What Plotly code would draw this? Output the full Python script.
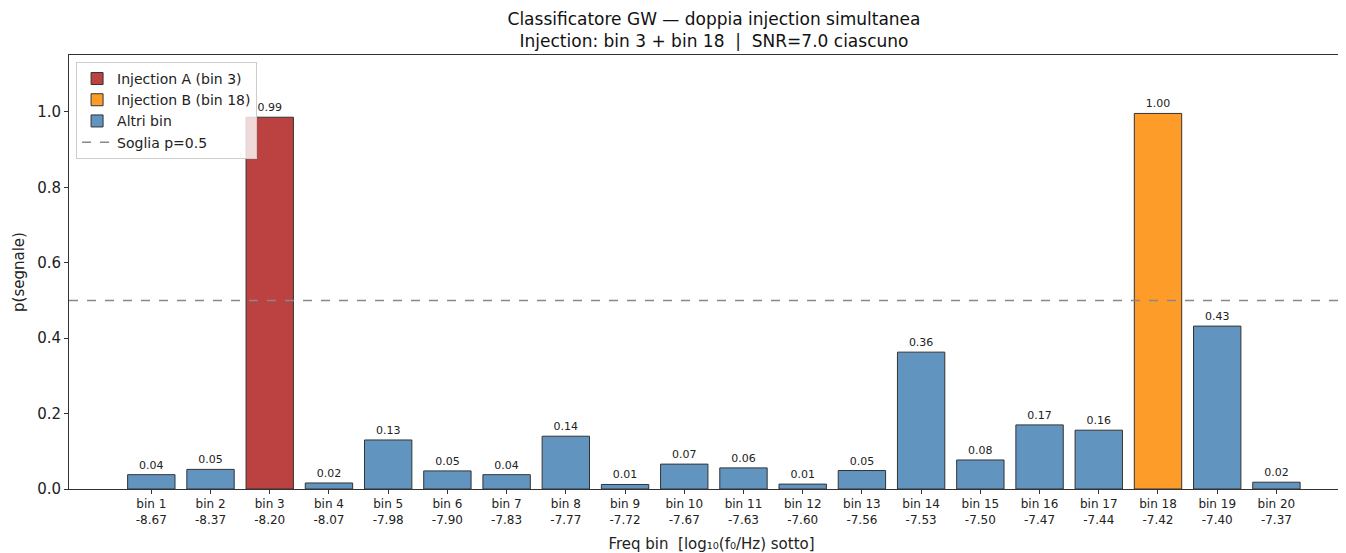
import plotly.graph_objects as go

# Data
bin_labels = [f"bin {i}" for i in range(1, 21)]
log_freqs = ["-8.67", "-8.37", "-8.20", "-8.07", "-7.98", "-7.90", "-7.83", "-7.77", "-7.72", "-7.67",
             "-7.63", "-7.60", "-7.56", "-7.53", "-7.50", "-7.47", "-7.44", "-7.42", "-7.40", "-7.37"]
p_signal = [0.038, 0.052, 0.986, 0.016, 0.130, 0.048, 0.038, 0.140, 0.012, 0.066,
            0.056, 0.013, 0.049, 0.363, 0.077, 0.170, 0.156, 0.996, 0.432, 0.018]
inj_a = 2   # bin 3
inj_b = 17  # bin 18
threshold = 0.5

x_idx = list(range(len(bin_labels)))
tick_text = [f"{b}<br>{f}" for b, f in zip(bin_labels, log_freqs)]

others = [i for i in x_idx if i not in (inj_a, inj_b)]

fig = go.Figure()

bar_style = dict(width=0.8, texttemplate="%{y:.2f}", textposition="outside",
                 textfont=dict(size=11, color="#222"), cliponaxis=False)

fig.add_trace(go.Bar(
    x=[inj_a], y=[p_signal[inj_a]], name="Injection A (bin 3)",
    marker=dict(color="#bc4141", line=dict(color="#333", width=1)), **bar_style
))
fig.add_trace(go.Bar(
    x=[inj_b], y=[p_signal[inj_b]], name="Injection B (bin 18)",
    marker=dict(color="#fe9c29", line=dict(color="#333", width=1)), **bar_style
))
fig.add_trace(go.Bar(
    x=others, y=[p_signal[i] for i in others], name="Altri bin",
    marker=dict(color="#6294c0", line=dict(color="#333", width=1)), **bar_style
))

# threshold line + legend entry
fig.add_hline(y=threshold, line=dict(color="#888", width=1.5, dash="dash"))
fig.add_trace(go.Scatter(
    x=[None], y=[None], mode="lines", name="Soglia p=0.5",
    line=dict(color="#888", width=1.5, dash="dash")
))

# page has an 8px body margin, so margins are shifted accordingly
fig.update_layout(
    width=1346, height=553,
    margin=dict(l=61, r=0, t=47, b=72),
    plot_bgcolor="white", paper_bgcolor="white",
    font=dict(family="DejaVu Sans", color="#222"),
    barmode="overlay",
    title=dict(
        text="Classificatore GW — doppia injection simultanea<br>Injection: bin 3 + bin 18  |  SNR=7.0 ciascuno",
        x=706 / 1346, xanchor="center", y=1 - 17 / 553, yanchor="middle",
        font=dict(size=17, color="#111")
    ),
    legend=dict(
        x=0.0055, y=0.984, xanchor="left", yanchor="top",
        bgcolor="rgba(255,255,255,0.8)", bordercolor="#ccc", borderwidth=1,
        font=dict(size=14), traceorder="normal", tracegroupgap=0
    ),
)

fig.update_xaxes(
    range=[-1.39, 20.31],
    tickmode="array", tickvals=x_idx, ticktext=tick_text,
    tickfont=dict(size=12), ticks="outside", ticklen=4, tickcolor="#333",
    showline=True, linecolor="#333", linewidth=1, mirror=True,
    showgrid=False, zeroline=False,
    title=dict(text="Freq bin  [log₁₀(f₀/Hz) sotto]", font=dict(size=15), standoff=12)
)
fig.update_yaxes(
    range=[0, 1.151], tickvals=[0, 0.2, 0.4, 0.6, 0.8, 1.0], tickformat=".1f",
    tickfont=dict(size=15), ticks="outside", ticklen=4, tickcolor="#333",
    showline=True, linecolor="#333", linewidth=1,
    showgrid=False, zeroline=False,
    title=dict(text="p(segnale)", font=dict(size=15), standoff=8)
)

fig.write_html("out.html")
